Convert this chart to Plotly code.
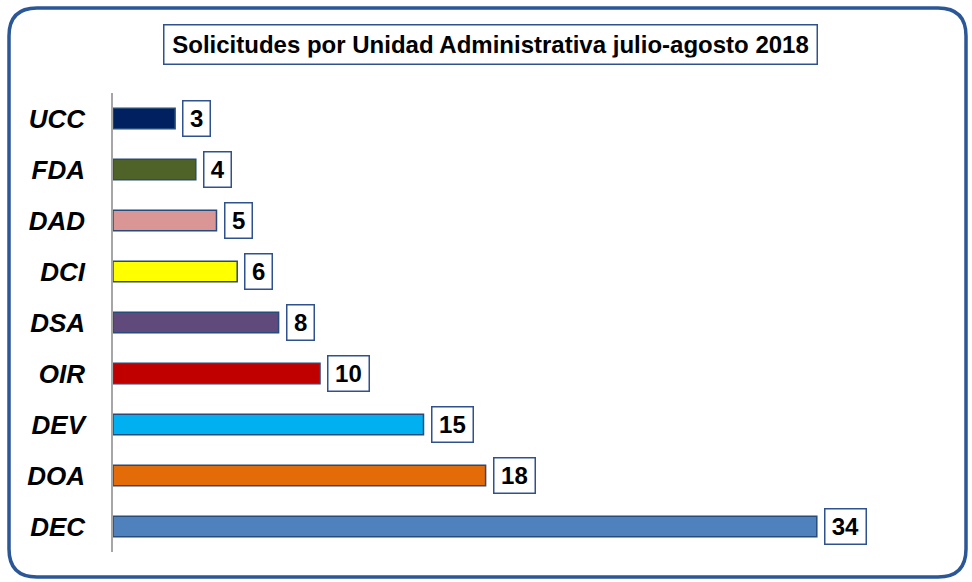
import plotly.graph_objects as go

categories = ["UCC", "FDA", "DAD", "DCI", "DSA", "OIR", "DEV", "DOA", "DEC"]
values = [3, 4, 5, 6, 8, 10, 15, 18, 34]
colors = ["#002060", "#4F6228", "#D99694", "#FFFF00", "#604A7B",
          "#C00000", "#00B0F0", "#E36C09", "#4F81BD"]
title_text = "Solicitudes por Unidad Administrativa julio-agosto 2018"

W, H = 972, 582
ML, MR, MT, MB = 113, 32, 93, 30
PW = W - ML - MR
PH = H - MT - MB

def px(x):
    return (x - ML) / PW

def py(y):
    return (H - MB - y) / PH

FONT = "Liberation Sans, Arial, sans-serif"

fig = go.Figure()
fig.add_trace(go.Bar(
    y=categories, x=values, orientation="h",
    marker=dict(color=colors, line=dict(color="#274B7A", width=1.5)),
    width=0.4, hoverinfo="skip",
))

for c, v in zip(categories, values):
    s = str(v)
    fig.add_annotation(
        x=v, y=c, xref="x", yref="y", text="<b>%s</b>" % s,
        showarrow=False, xanchor="left", yanchor="middle", xshift=7,
        font=dict(family=FONT, size=24, color="black"),
        width=13.4 * len(s) + 3, height=24, align="center", valign="middle",
        bgcolor="white", bordercolor="#2F528F", borderwidth=1.5, borderpad=5,
    )

fig.add_annotation(
    x=px(490), y=py(45), xref="paper", yref="paper",
    xanchor="center", yanchor="middle",
    text="<b>" + title_text + "</b>", showarrow=False,
    font=dict(family=FONT, size=24, color="black"),
    width=640, height=26, align="center", valign="middle",
    bgcolor="white", bordercolor="#2F528F", borderwidth=1.5, borderpad=6,
)

# outer rounded border
x0, x1, y0, y1, r = 9, 966, 8, 577, 28
path = (
    f"M {px(x0 + r)} {py(y0)} L {px(x1 - r)} {py(y0)} "
    f"Q {px(x1)} {py(y0)} {px(x1)} {py(y0 + r)} "
    f"L {px(x1)} {py(y1 - r)} "
    f"Q {px(x1)} {py(y1)} {px(x1 - r)} {py(y1)} "
    f"L {px(x0 + r)} {py(y1)} "
    f"Q {px(x0)} {py(y1)} {px(x0)} {py(y1 - r)} "
    f"L {px(x0)} {py(y0 + r)} "
    f"Q {px(x0)} {py(y0)} {px(x0 + r)} {py(y0)} Z"
)
fig.add_shape(type="path", path=path, xref="paper", yref="paper",
              line=dict(color="#2B5797", width=3.5), layer="above")

fig.update_layout(
    width=W, height=H,
    margin=dict(l=ML, r=MR, t=MT, b=MB),
    paper_bgcolor="white", plot_bgcolor="white",
    showlegend=False,
    xaxis=dict(range=[0, PW / 20.7], visible=False, fixedrange=True),
    yaxis=dict(
        categoryorder="array", categoryarray=categories[::-1],
        range=[-0.5, 8.5], fixedrange=True,
        showline=True, linecolor="#A6A6A6", linewidth=1.5,
        showgrid=False, ticks="", ticklabelstandoff=21,
        tickfont=dict(family=FONT, size=26, color="black",
                      weight="bold", style="italic"),
    ),
)

fig.write_html("out.html", config={"displayModeBar": False},
               post_script="document.body.style.margin='0';")
